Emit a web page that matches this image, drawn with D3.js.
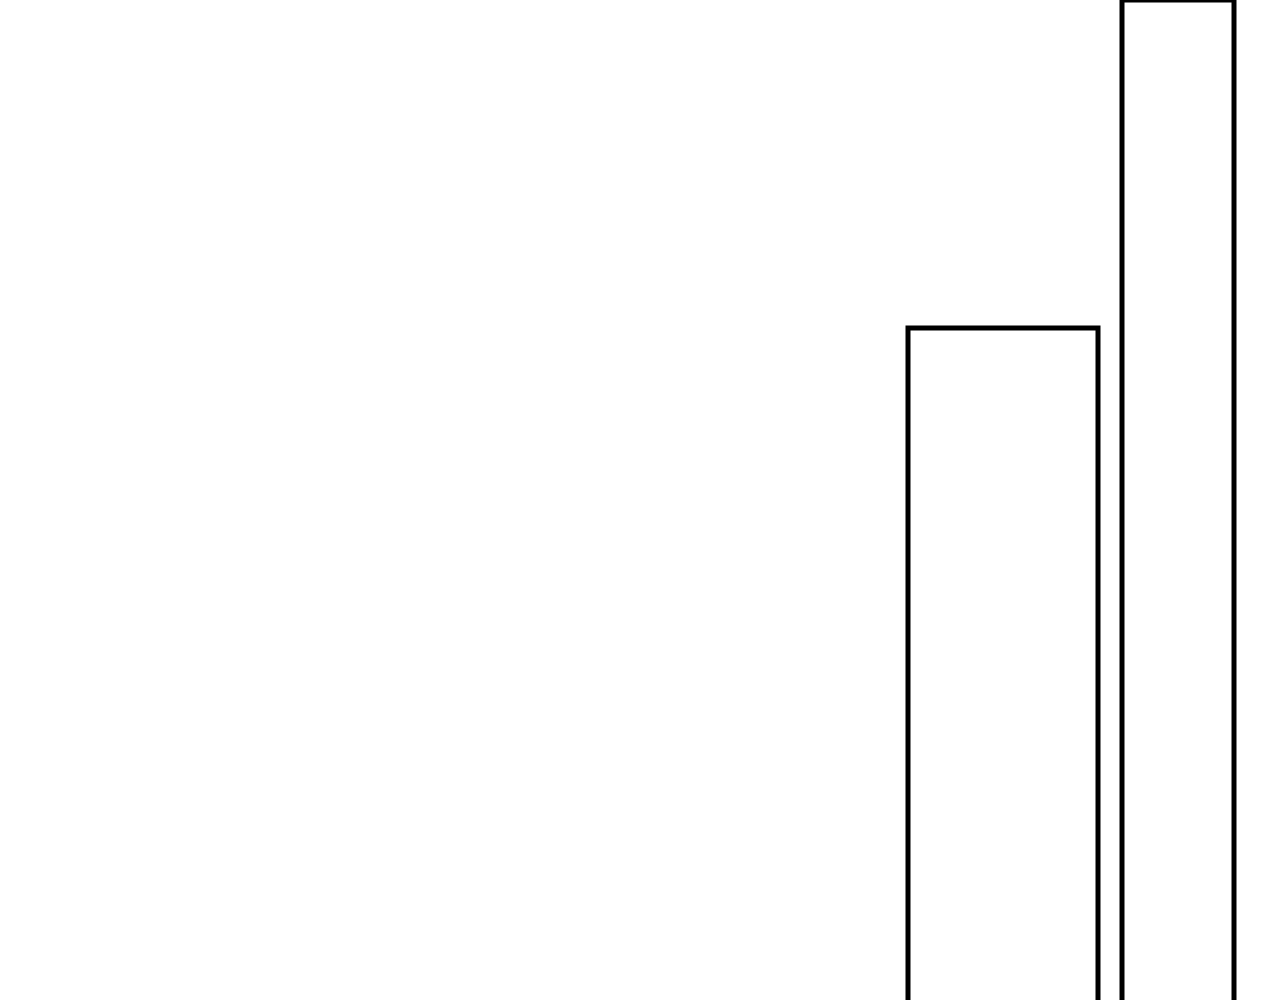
<!DOCTYPE html>
<html>
<head>
<meta charset="utf-8">
<script src="https://cdn.jsdelivr.net/npm/d3@7"></script>
<style>
  html, body { margin: 0; padding: 0; background: #ffffff; overflow: hidden; }
  svg { display: block; }
</style>
</head>
<body>
<script>
// Data
const categories = ["A", "B"];
const binStart = [90.8, 112.2];
const binEnd = [109.8, 123.4];
const values = [67.6, 100.4];

const width = 1280, height = 1000;

const svg = d3.select("body").append("svg")
  .attr("width", width)
  .attr("height", height);

const x = d3.scaleLinear().domain([0, 128]).range([0, width]);
const y = d3.scaleLinear().domain([0, 100]).range([1004, 4]);

const data = categories.map((c, i) => ({ c, x0: binStart[i], x1: binEnd[i], v: values[i] }));

svg.selectAll("rect.bar")
  .data(data)
  .join("rect")
  .attr("class", "bar")
  .attr("x", d => x(d.x0))
  .attr("width", d => x(d.x1) - x(d.x0))
  .attr("y", d => y(d.v))
  .attr("height", d => y(0) - y(d.v) + 20)
  .attr("fill", "#ffffff")
  .attr("stroke", "#000000")
  .attr("stroke-width", 5);
</script>
</body>
</html>
